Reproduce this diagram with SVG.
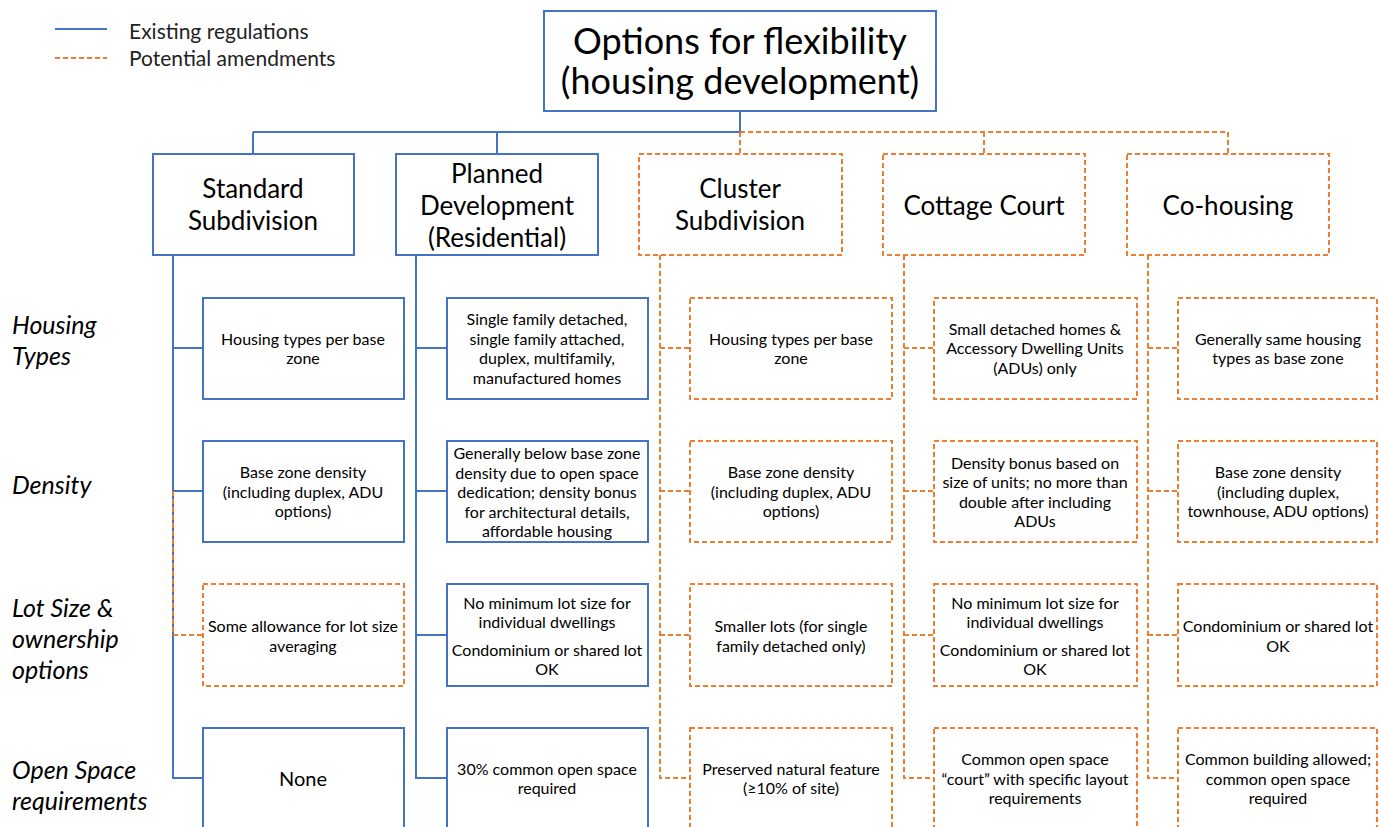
<svg xmlns="http://www.w3.org/2000/svg" width="1379" height="827" viewBox="0 0 1379 827">
<style>
text{font-family:Lato,"Liberation Sans",sans-serif;fill:#000;text-anchor:middle;dominant-baseline:central}
.b{fill:#fff;stroke:#4472C4;stroke-width:2}
.o{fill:#fff;stroke:#ED7D31;stroke-width:2;stroke-dasharray:5,3}
.lb{fill:none;stroke:#4472C4;stroke-width:2}
.lo{fill:none;stroke:#ED7D31;stroke-width:2;stroke-dasharray:5,3}
.t{font-size:16px}
.h{font-size:26px}
.row{font-size:25px;font-style:italic;text-anchor:start}
.leg{font-size:21px;text-anchor:start;fill:#222}
</style>
<rect width="1379" height="827" fill="#fff"/>
<g id="legend">
<line x1="55" y1="29" x2="107" y2="29" class="lb"/>
<line x1="55" y1="58" x2="107" y2="58" class="lo"/>
<text x="129" y="30" class="leg">Existing regulations</text>
<text x="129" y="57" class="leg">Potential amendments</text>
</g>
<g id="row-labels">
<text x="12" y="324" class="row">Housing</text>
<text x="12" y="355" class="row">Types</text>
<text x="12" y="484" class="row">Density</text>
<text x="12" y="607" class="row">Lot Size &amp;</text>
<text x="12" y="638" class="row">ownership</text>
<text x="12" y="669" class="row">options</text>
<text x="12" y="769" class="row">Open Space</text>
<text x="12" y="800" class="row">requirements</text>
</g>
<g id="connectors">
<path class="lb" d="M740,111 V132 M253,132 H740 M253,132 V154 M497,132 V154"/>
<path class="lo" d="M740,132 H1228 M740,132 V154 M984,132 V154 M1228,132 V154"/>
<path class="lb" d="M173,255 V778 H203 M173,348 H203 M173,491 H203"/>
<path class="lo" d="M173,491 V635 H203"/>
<path class="lb" d="M416,255 V778 H447 M416,348 H447 M416,491 H447 M416,635 H447"/>
<path class="lo" d="M660,255 V778 H690 M660,348 H690 M660,491 H690 M660,635 H690"/>
<path class="lo" d="M904,255 V778 H934 M904,348 H934 M904,491 H934 M904,635 H934"/>
<path class="lo" d="M1148,255 V778 H1178 M1148,348 H1178 M1148,491 H1178 M1148,635 H1178"/>
</g>
<g id="root">
<rect x="544" y="11" width="392" height="100" class="b"/>
<text x="740" y="40" style="font-size:36px">Options for flexibility</text>
<text x="740" y="80" style="font-size:36px">(housing development)</text>
</g>
<g id="standard">
<rect x="153" y="154" width="201" height="101" class="b"/>
<text x="253" y="188" class="h">Standard</text>
<text x="253" y="220" class="h">Subdivision</text>
</g>
<g id="planned">
<rect x="396" y="154" width="202" height="101" class="b"/>
<text x="497" y="173" class="h">Planned</text>
<text x="497" y="205" class="h">Development</text>
<text x="497" y="237" class="h">(Residential)</text>
</g>
<g id="cluster">
<rect x="639" y="154" width="203" height="101" class="o"/>
<text x="740" y="188" class="h">Cluster</text>
<text x="740" y="220" class="h">Subdivision</text>
</g>
<g id="cottage">
<rect x="883" y="154" width="202" height="101" class="o"/>
<text x="984" y="205" class="h">Cottage Court</text>
</g>
<g id="cohousing">
<rect x="1127" y="154" width="202" height="101" class="o"/>
<text x="1228" y="205" class="h">Co-housing</text>
</g>
<g id="std-housing">
<rect x="203" y="298" width="201" height="101" class="b"/>
<text x="303" y="338" class="t">Housing types per base</text>
<text x="303" y="357" class="t">zone</text>
</g>
<g id="std-density">
<rect x="203" y="441" width="201" height="101" class="b"/>
<text x="303" y="471" class="t">Base zone density</text>
<text x="303" y="491" class="t">(including duplex, ADU</text>
<text x="303" y="510" class="t">options)</text>
</g>
<g id="std-lot">
<rect x="203" y="584" width="201" height="102" class="o"/>
<text x="303" y="625" class="t">Some allowance for lot size</text>
<text x="303" y="645" class="t">averaging</text>
</g>
<g id="std-open">
<rect x="203" y="728" width="201" height="112" class="b"/>
<text x="303" y="778" style="font-size:20px">None</text>
</g>
<g id="pd-housing">
<rect x="447" y="298" width="201" height="101" class="b"/>
<text x="547" y="318" class="t">Single family detached,</text>
<text x="547" y="338" class="t">single family attached,</text>
<text x="547" y="357" class="t">duplex, multifamily,</text>
<text x="547" y="377" class="t">manufactured homes</text>
</g>
<g id="pd-density">
<rect x="447" y="441" width="201" height="101" class="b"/>
<text x="547" y="452" class="t">Generally below base zone</text>
<text x="547" y="472" class="t">density due to open space</text>
<text x="547" y="491" class="t">dedication; density bonus</text>
<text x="547" y="511" class="t">for architectural details,</text>
<text x="547" y="530" class="t">affordable housing</text>
</g>
<g id="pd-lot">
<rect x="447" y="584" width="201" height="102" class="b"/>
<text x="547" y="602" class="t">No minimum lot size for</text>
<text x="547" y="621" class="t">individual dwellings</text>
<text x="547" y="649" class="t">Condominium or shared lot</text>
<text x="547" y="668" class="t">OK</text>
</g>
<g id="pd-open">
<rect x="447" y="728" width="201" height="112" class="b"/>
<text x="547" y="768" class="t">30% common open space</text>
<text x="547" y="787" class="t">required</text>
</g>
<g id="cl-housing">
<rect x="690" y="298" width="202" height="101" class="o"/>
<text x="791" y="338" class="t">Housing types per base</text>
<text x="791" y="357" class="t">zone</text>
</g>
<g id="cl-density">
<rect x="690" y="441" width="202" height="101" class="o"/>
<text x="791" y="471" class="t">Base zone density</text>
<text x="791" y="491" class="t">(including duplex, ADU</text>
<text x="791" y="510" class="t">options)</text>
</g>
<g id="cl-lot">
<rect x="690" y="584" width="202" height="102" class="o"/>
<text x="791" y="625" class="t">Smaller lots (for single</text>
<text x="791" y="645" class="t">family detached only)</text>
</g>
<g id="cl-open">
<rect x="690" y="728" width="202" height="112" class="o"/>
<text x="791" y="768" class="t">Preserved natural feature</text>
<text x="791" y="787" class="t">(≥10% of site)</text>
</g>
<g id="cc-housing">
<rect x="934" y="298" width="203" height="101" class="o"/>
<text x="1035" y="328" class="t">Small detached homes &amp;</text>
<text x="1035" y="347" class="t">Accessory Dwelling Units</text>
<text x="1035" y="367" class="t">(ADUs) only</text>
</g>
<g id="cc-density">
<rect x="934" y="441" width="203" height="101" class="o"/>
<text x="1035" y="462" class="t">Density bonus based on</text>
<text x="1035" y="481" class="t">size of units; no more than</text>
<text x="1035" y="501" class="t">double after including</text>
<text x="1035" y="520" class="t">ADUs</text>
</g>
<g id="cc-lot">
<rect x="934" y="584" width="203" height="102" class="o"/>
<text x="1035" y="602" class="t">No minimum lot size for</text>
<text x="1035" y="621" class="t">individual dwellings</text>
<text x="1035" y="649" class="t">Condominium or shared lot</text>
<text x="1035" y="668" class="t">OK</text>
</g>
<g id="cc-open">
<rect x="934" y="728" width="203" height="112" class="o"/>
<text x="1035" y="758" class="t">Common open space</text>
<text x="1035" y="778" class="t">“court” with specific layout</text>
<text x="1035" y="797" class="t">requirements</text>
</g>
<g id="ch-housing">
<rect x="1178" y="298" width="199" height="101" class="o"/>
<text x="1278" y="338" class="t">Generally same housing</text>
<text x="1278" y="357" class="t">types as base zone</text>
</g>
<g id="ch-density">
<rect x="1178" y="441" width="199" height="101" class="o"/>
<text x="1278" y="471" class="t">Base zone density</text>
<text x="1278" y="491" class="t">(including duplex,</text>
<text x="1278" y="510" class="t">townhouse, ADU options)</text>
</g>
<g id="ch-lot">
<rect x="1178" y="584" width="199" height="102" class="o"/>
<text x="1278" y="625" class="t">Condominium or shared lot</text>
<text x="1278" y="645" class="t">OK</text>
</g>
<g id="ch-open">
<rect x="1178" y="728" width="199" height="112" class="o"/>
<text x="1278" y="758" class="t">Common building allowed;</text>
<text x="1278" y="778" class="t">common open space</text>
<text x="1278" y="797" class="t">required</text>
</g>
</svg>
